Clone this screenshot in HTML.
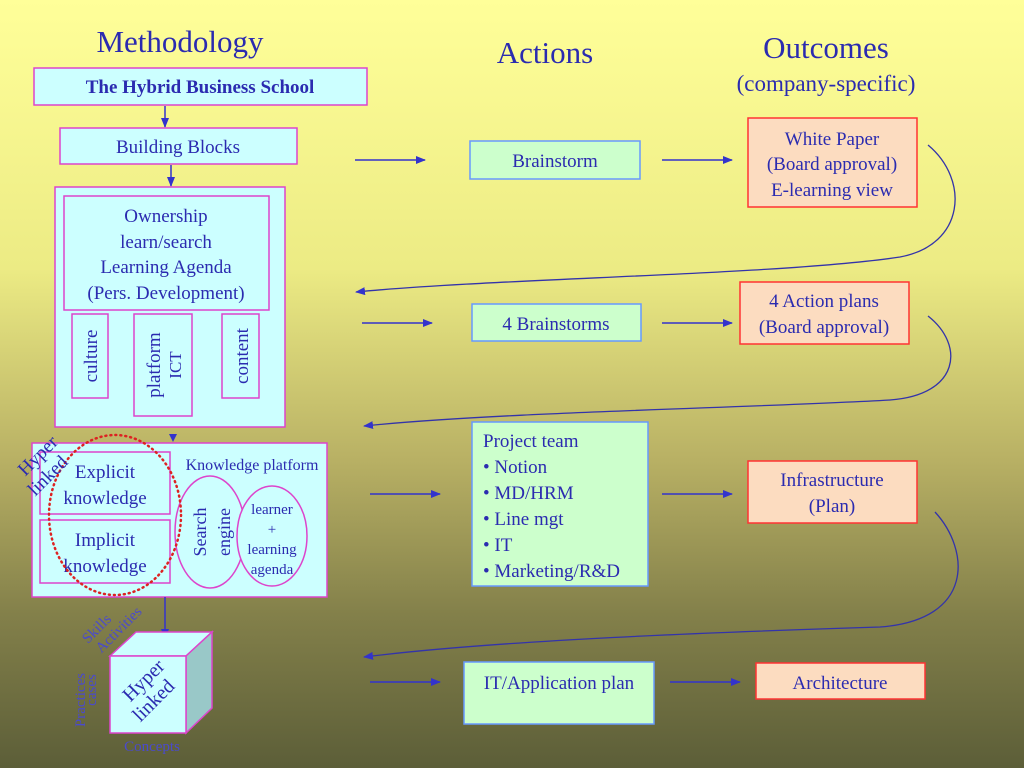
<!DOCTYPE html>
<html><head><meta charset="utf-8"><style>
html,body{margin:0;padding:0;}
svg{display:block;}
text{font-family:"Liberation Serif",serif;fill:#2b2bb0;}
</style></head><body>
<svg width="1024" height="768" viewBox="0 0 1024 768" xmlns="http://www.w3.org/2000/svg">
<defs>
<linearGradient id="bg" x1="0" y1="0" x2="0" y2="1">
<stop offset="0" stop-color="#ffff99"/>
<stop offset="0.35" stop-color="#eceb84"/>
<stop offset="0.6" stop-color="#b8b064"/>
<stop offset="0.8" stop-color="#83804a"/>
<stop offset="1" stop-color="#5c5e38"/>
</linearGradient>
<marker id="ah" markerWidth="10" markerHeight="8" refX="9" refY="4" orient="auto" markerUnits="userSpaceOnUse">
<path d="M0,0 L10,4 L0,8 Z" fill="#3333cc"/>
</marker>
</defs>
<rect width="1024" height="768" fill="url(#bg)"/>

<!-- Titles -->
<text x="180" y="52" font-size="31" text-anchor="middle">Methodology</text>
<text x="545" y="63" font-size="31" text-anchor="middle">Actions</text>
<text x="826" y="58" font-size="31" text-anchor="middle">Outcomes</text>
<text x="826" y="91" font-size="23" text-anchor="middle">(company-specific)</text>

<!-- Methodology column -->
<rect x="34" y="68" width="333" height="37" fill="#ccffff" stroke="#dd44cc" stroke-width="1.5"/>
<text x="200" y="93" font-size="19" font-weight="bold" text-anchor="middle">The Hybrid Business School</text>
<line x1="165" y1="106" x2="165" y2="127" stroke="#3333cc" stroke-width="1.5" marker-end="url(#ah)"/>
<rect x="60" y="128" width="237" height="36" fill="#ccffff" stroke="#dd44cc" stroke-width="1.5"/>
<text x="178" y="153" font-size="19" text-anchor="middle">Building Blocks</text>
<line x1="171" y1="165" x2="171" y2="186" stroke="#3333cc" stroke-width="1.5" marker-end="url(#ah)"/>

<rect x="55" y="187" width="230" height="240" fill="#ccffff" stroke="#dd44cc" stroke-width="1.5"/>
<rect x="64" y="196" width="205" height="114" fill="#ccffff" stroke="#dd44cc" stroke-width="1.5"/>
<text x="166" y="222" font-size="19" text-anchor="middle">Ownership</text>
<text x="166" y="248" font-size="19" text-anchor="middle">learn/search</text>
<text x="166" y="273" font-size="19" text-anchor="middle">Learning Agenda</text>
<text x="166" y="299" font-size="19" text-anchor="middle">(Pers. Development)</text>
<rect x="72" y="314" width="36" height="84" fill="#ccffff" stroke="#dd44cc" stroke-width="1.5"/>
<text transform="translate(97,356) rotate(-90)" font-size="19" text-anchor="middle">culture</text>
<rect x="134" y="314" width="58" height="102" fill="#ccffff" stroke="#dd44cc" stroke-width="1.5"/>
<text transform="translate(160,365) rotate(-90)" font-size="19" text-anchor="middle">platform</text>
<text transform="translate(181,365) rotate(-90)" font-size="17" text-anchor="middle">ICT</text>
<rect x="222" y="314" width="37" height="84" fill="#ccffff" stroke="#dd44cc" stroke-width="1.5"/>
<text transform="translate(248,356) rotate(-90)" font-size="19" text-anchor="middle">content</text>
<path d="M169,434 L177,434 L173,442 Z" fill="#3333cc"/>

<!-- Knowledge platform -->
<rect x="32" y="443" width="295" height="154" fill="#ccffff" stroke="#dd44cc" stroke-width="1.5"/>
<rect x="40" y="452" width="130" height="62" fill="#ccffff" stroke="#dd44cc" stroke-width="1.5"/>
<text x="105" y="478" font-size="19" text-anchor="middle">Explicit</text>
<text x="105" y="504" font-size="19" text-anchor="middle">knowledge</text>
<rect x="40" y="520" width="130" height="63" fill="#ccffff" stroke="#dd44cc" stroke-width="1.5"/>
<text x="105" y="546" font-size="19" text-anchor="middle">Implicit</text>
<text x="105" y="572" font-size="19" text-anchor="middle">knowledge</text>
<text x="252" y="470" font-size="16" text-anchor="middle">Knowledge platform</text>
<ellipse cx="210" cy="532" rx="35" ry="56" fill="#ccffff" stroke="#dd44cc" stroke-width="1.5"/>
<text transform="translate(206,532) rotate(-90)" font-size="18" text-anchor="middle">Search</text>
<text transform="translate(230,532) rotate(-90)" font-size="18" text-anchor="middle">engine</text>
<ellipse cx="272" cy="536" rx="35" ry="50" fill="#ccffff" stroke="#dd44cc" stroke-width="1.5"/>
<text x="272" y="514" font-size="15" text-anchor="middle">learner</text>
<text x="272" y="534" font-size="15" text-anchor="middle">+</text>
<text x="272" y="554" font-size="15" text-anchor="middle">learning</text>
<text x="272" y="574" font-size="15" text-anchor="middle">agenda</text>
<ellipse cx="115" cy="515" rx="66" ry="80" fill="none" stroke="#dd2222" stroke-width="2.5" stroke-dasharray="1 4" stroke-linecap="round"/>
<text transform="translate(42,460) rotate(-45)" font-size="19" text-anchor="middle">Hyper</text>
<text transform="translate(52,480) rotate(-45)" font-size="19" text-anchor="middle">linked</text>

<!-- Cube -->
<line x1="165" y1="597" x2="165" y2="638" stroke="#3333cc" stroke-width="1.5" marker-end="url(#ah)"/>
<polygon points="110,656 136,632 212,632 186,656" fill="#ccffff" stroke="#dd44cc" stroke-width="1.5"/>
<polygon points="186,656 212,632 212,708 186,733" fill="#99c8c8" stroke="#dd44cc" stroke-width="1.5"/>
<rect x="110" y="656" width="76" height="77" fill="#ccffff" stroke="#dd44cc" stroke-width="1.5"/>
<text transform="translate(148,685) rotate(-45)" font-size="20" text-anchor="middle">Hyper</text>
<text transform="translate(158,705) rotate(-45)" font-size="20" text-anchor="middle">linked</text>
<text transform="translate(100,632) rotate(-45)" font-size="15" text-anchor="middle" fill="#5555cc" style="fill:#4a4acc">Skills</text>
<text transform="translate(122,633) rotate(-45)" font-size="15" text-anchor="middle" style="fill:#4a4acc">Activities</text>
<text transform="translate(85,700) rotate(-90)" font-size="15" text-anchor="middle" style="fill:#4a4acc">Practices</text>
<text transform="translate(96,690) rotate(-90)" font-size="15" text-anchor="middle" style="fill:#4a4acc">cases</text>
<text x="152" y="751" font-size="15" text-anchor="middle" style="fill:#4a4acc">Concepts</text>

<!-- Row 1 -->
<line x1="355" y1="160" x2="425" y2="160" stroke="#3333cc" stroke-width="1.5" marker-end="url(#ah)"/>
<rect x="470" y="141" width="170" height="38" fill="#ccffcc" stroke="#6699ff" stroke-width="1.5"/>
<text x="555" y="167" font-size="19" text-anchor="middle">Brainstorm</text>
<line x1="662" y1="160" x2="732" y2="160" stroke="#3333cc" stroke-width="1.5" marker-end="url(#ah)"/>
<rect x="748" y="118" width="169" height="89" fill="#fcdcc0" stroke="#ff3333" stroke-width="1.5"/>
<text x="832" y="145" font-size="19" text-anchor="middle">White Paper</text>
<text x="832" y="170" font-size="19" text-anchor="middle">(Board approval)</text>
<text x="832" y="196" font-size="19" text-anchor="middle">E-learning view</text>
<path d="M928,145 C970,180 965,245 900,257 C780,275 500,278 356,292" fill="none" stroke="#3333aa" stroke-width="1.3" marker-end="url(#ah)"/>

<!-- Row 2 -->
<line x1="362" y1="323" x2="432" y2="323" stroke="#3333cc" stroke-width="1.5" marker-end="url(#ah)"/>
<rect x="472" y="304" width="169" height="37" fill="#ccffcc" stroke="#6699ff" stroke-width="1.5"/>
<text x="556" y="330" font-size="19" text-anchor="middle">4 Brainstorms</text>
<line x1="662" y1="323" x2="732" y2="323" stroke="#3333cc" stroke-width="1.5" marker-end="url(#ah)"/>
<rect x="740" y="282" width="169" height="62" fill="#fcdcc0" stroke="#ff3333" stroke-width="1.5"/>
<text x="824" y="307" font-size="19" text-anchor="middle">4 Action plans</text>
<text x="824" y="333" font-size="19" text-anchor="middle">(Board approval)</text>
<path d="M928,316 C965,345 960,395 890,400 C750,408 500,412 364,426" fill="none" stroke="#3333aa" stroke-width="1.3" marker-end="url(#ah)"/>

<!-- Row 3 -->
<line x1="370" y1="494" x2="440" y2="494" stroke="#3333cc" stroke-width="1.5" marker-end="url(#ah)"/>
<rect x="472" y="422" width="176" height="164" fill="#ccffcc" stroke="#6699ff" stroke-width="1.5"/>
<text x="483" y="447" font-size="19">Project team</text>
<text x="483" y="473" font-size="19">• Notion</text>
<text x="483" y="499" font-size="19">• MD/HRM</text>
<text x="483" y="525" font-size="19">• Line mgt</text>
<text x="483" y="551" font-size="19">• IT</text>
<text x="483" y="577" font-size="19">• Marketing/R&amp;D</text>
<line x1="662" y1="494" x2="732" y2="494" stroke="#3333cc" stroke-width="1.5" marker-end="url(#ah)"/>
<rect x="748" y="461" width="169" height="62" fill="#fcdcc0" stroke="#ff3333" stroke-width="1.5"/>
<text x="832" y="486" font-size="19" text-anchor="middle">Infrastructure</text>
<text x="832" y="512" font-size="19" text-anchor="middle">(Plan)</text>
<path d="M935,512 C970,550 975,620 880,627 C720,632 500,640 364,657" fill="none" stroke="#3333aa" stroke-width="1.3" marker-end="url(#ah)"/>

<!-- Row 4 -->
<line x1="370" y1="682" x2="440" y2="682" stroke="#3333cc" stroke-width="1.5" marker-end="url(#ah)"/>
<rect x="464" y="662" width="190" height="62" fill="#ccffcc" stroke="#6699ff" stroke-width="1.5"/>
<text x="559" y="689" font-size="19" text-anchor="middle">IT/Application plan</text>
<line x1="670" y1="682" x2="740" y2="682" stroke="#3333cc" stroke-width="1.5" marker-end="url(#ah)"/>
<rect x="756" y="663" width="169" height="36" fill="#fcdcc0" stroke="#ff3333" stroke-width="1.5"/>
<text x="840" y="689" font-size="19" text-anchor="middle">Architecture</text>
</svg>
</body></html>
